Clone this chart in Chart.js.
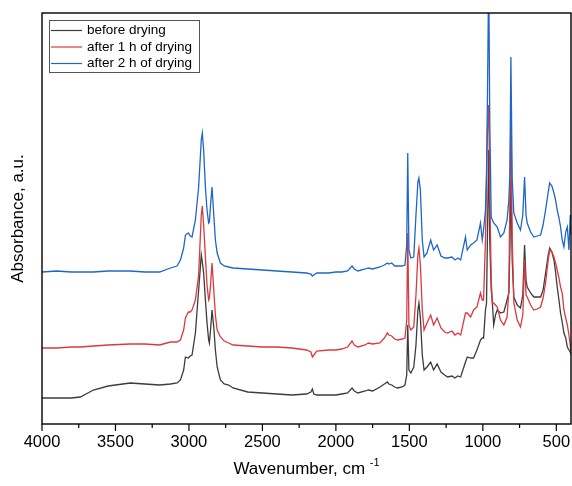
<!doctype html>
<html lang="en">
<head>
<meta charset="utf-8">
<title>FTIR spectra</title>
<style>
  * { margin: 0; padding: 0; }
  body { background: #fff; }
  .chartBox { width: 572px; height: 486px; }
</style>
</head>
<body>
<div class="chartBox"><canvas id="myChart"></canvas></div>
<script src="https://cdn.jsdelivr.net/npm/chart.js"></script>
<script>
// data (absorbance, arbitrary units, curves offset)
const wavenumbers = [4000, 3900, 3800, 3740, 3650, 3550, 3400, 3300, 3200, 3125, 3081, 3058, 3036, 3024, 3004, 2991, 2979, 2956, 2934, 2916, 2909, 2900, 2888, 2877, 2866, 2861, 2853, 2843, 2831, 2820, 2808, 2786, 2760, 2730, 2700, 2600, 2500, 2400, 2300, 2200, 2170, 2160, 2150, 2130, 2050, 2000, 1960, 1920, 1890, 1875, 1850, 1800, 1780, 1750, 1700, 1670, 1650, 1640, 1620, 1600, 1580, 1550, 1530, 1518, 1511, 1503, 1490, 1470, 1455, 1442, 1435, 1425, 1412, 1400, 1380, 1355, 1335, 1311, 1285, 1260, 1240, 1210, 1190, 1170, 1151, 1118, 1106, 1083, 1063, 1040, 1016, 1004, 995, 982, 975, 968, 960, 953, 943, 935, 926, 914, 902, 880, 857, 835, 823, 816, 809, 800, 789, 766, 744, 728, 716, 706, 698, 675, 653, 630, 607, 590, 573, 555, 545, 530, 516, 505, 494, 482, 471, 460, 448, 436, 425, 414, 405, 400];

const beforeDrying = [0.26, 0.26, 0.26, 0.27, 0.34, 0.38, 0.41, 0.40, 0.39, 0.40, 0.41, 0.44, 0.54, 0.67, 0.66, 0.68, 0.69, 0.91, 1.34, 1.69, 1.62, 1.51, 1.24, 1.01, 0.84, 0.81, 0.94, 1.14, 0.97, 0.74, 0.57, 0.44, 0.40, 0.39, 0.36, 0.32, 0.31, 0.30, 0.29, 0.30, 0.32, 0.35, 0.30, 0.29, 0.29, 0.29, 0.30, 0.31, 0.36, 0.33, 0.31, 0.33, 0.34, 0.33, 0.37, 0.40, 0.42, 0.40, 0.39, 0.37, 0.36, 0.37, 0.39, 0.49, 0.99, 0.54, 0.51, 0.57, 0.79, 1.14, 1.21, 1.06, 0.69, 0.54, 0.57, 0.62, 0.54, 0.60, 0.52, 0.49, 0.47, 0.48, 0.46, 0.48, 0.47, 0.62, 0.67, 0.66, 0.66, 0.74, 0.84, 0.86, 0.86, 1.14, 1.21, 1.94, 2.74, 1.84, 1.34, 1.21, 0.99, 1.09, 1.14, 1.11, 1.12, 1.24, 1.31, 1.74, 2.44, 1.64, 1.27, 1.19, 1.16, 1.29, 1.79, 1.44, 1.37, 1.31, 1.27, 1.27, 1.27, 1.34, 1.51, 1.69, 1.76, 1.72, 1.64, 1.52, 1.37, 1.24, 1.11, 1.02, 0.91, 0.86, 0.77, 0.74, 0.72, 0.69];

const after1h = [0.76, 0.76, 0.77, 0.77, 0.78, 0.79, 0.80, 0.80, 0.79, 0.82, 0.82, 0.84, 0.94, 1.06, 1.12, 1.12, 1.14, 1.24, 1.49, 2.09, 2.18, 1.99, 1.67, 1.39, 1.24, 1.26, 1.39, 1.61, 1.34, 1.09, 0.94, 0.87, 0.83, 0.81, 0.79, 0.78, 0.77, 0.77, 0.76, 0.74, 0.72, 0.67, 0.69, 0.73, 0.74, 0.74, 0.75, 0.77, 0.83, 0.79, 0.77, 0.79, 0.81, 0.80, 0.81, 0.86, 0.91, 0.89, 0.88, 0.85, 0.84, 0.85, 0.86, 1.04, 1.91, 0.99, 0.94, 0.97, 1.29, 1.69, 1.76, 1.59, 1.14, 0.94, 1.01, 1.09, 0.99, 1.06, 0.96, 0.92, 0.91, 0.93, 0.89, 0.91, 0.89, 1.11, 1.11, 1.07, 1.14, 1.17, 1.31, 1.24, 1.24, 1.84, 2.44, 2.94, 3.19, 2.34, 1.44, 1.21, 1.21, 1.19, 1.17, 1.04, 0.99, 1.07, 1.34, 2.24, 3.14, 1.84, 1.21, 1.04, 0.97, 1.09, 1.64, 1.29, 1.27, 1.19, 1.14, 1.15, 1.17, 1.26, 1.41, 1.64, 1.74, 1.72, 1.67, 1.61, 1.54, 1.46, 1.37, 1.31, 1.14, 1.06, 0.99, 0.89, 0.79, 0.69];

const after2h = [1.52, 1.53, 1.52, 1.52, 1.52, 1.53, 1.53, 1.52, 1.52, 1.56, 1.58, 1.64, 1.76, 1.89, 1.91, 1.88, 1.87, 2.04, 2.37, 2.84, 2.91, 2.74, 2.37, 2.14, 2.01, 2.02, 2.19, 2.37, 2.09, 1.84, 1.71, 1.61, 1.58, 1.57, 1.56, 1.55, 1.54, 1.53, 1.52, 1.51, 1.50, 1.48, 1.49, 1.51, 1.51, 1.52, 1.52, 1.53, 1.58, 1.55, 1.53, 1.55, 1.56, 1.55, 1.57, 1.59, 1.61, 1.60, 1.61, 1.58, 1.58, 1.58, 1.59, 1.79, 2.71, 1.74, 1.66, 1.67, 2.09, 2.42, 2.46, 2.34, 1.84, 1.67, 1.71, 1.84, 1.74, 1.79, 1.68, 1.66, 1.66, 1.67, 1.64, 1.66, 1.64, 1.87, 1.74, 1.79, 1.81, 1.84, 2.01, 1.84, 1.94, 2.14, 2.51, 3.34, 4.54, 3.04, 2.07, 2.04, 2.01, 1.99, 1.97, 1.87, 1.91, 2.04, 2.24, 2.51, 3.67, 2.44, 2.11, 2.01, 1.94, 2.09, 2.47, 2.09, 2.01, 1.92, 1.87, 1.88, 1.89, 1.99, 2.14, 2.32, 2.41, 2.38, 2.31, 2.24, 2.14, 2.06, 1.97, 1.84, 1.77, 1.92, 1.97, 1.74, 2.09, 1.89];

const seriesNames = ['before drying', 'after 1 h of drying', 'after 2 h of drying'];
const seriesColors = ['#3c3c3c', '#d93a40', '#1f66c8'];
const xTickLabels = [4000, 3500, 3000, 2500, 2000, 1500, 1000, 500];
const xMinorTicks = [3750, 3250, 2750, 2250, 1750, 1250, 750];

const FONT = 'Liberation Sans, Arial, sans-serif';

function toPoints(values) {
  return wavenumbers.map((w, i) => ({ x: w, y: values[i] }));
}

// frame, tick marks, legend box and x title
const decorations = {
  id: 'decorations',
  afterDraw(chart) {
    const { ctx, chartArea: a } = chart;
    const xs = chart.scales.x;
    ctx.save();
    ctx.strokeStyle = '#000';
    ctx.lineWidth = 1.4;
    ctx.strokeRect(a.left, a.top, a.right - a.left, a.bottom - a.top);

    ctx.lineWidth = 1.2;
    ctx.beginPath();
    xTickLabels.forEach(v => {
      const px = xs.getPixelForValue(v);
      ctx.moveTo(px, a.bottom);
      ctx.lineTo(px, a.bottom + 7);
    });
    xMinorTicks.forEach(v => {
      const px = xs.getPixelForValue(v);
      ctx.moveTo(px, a.bottom);
      ctx.lineTo(px, a.bottom + 4);
    });
    ctx.stroke();

    // legend
    ctx.lineWidth = 1;
    ctx.strokeStyle = '#555';
    ctx.strokeRect(49.5, 20.5, 150, 52);
    ctx.font = '13.5px ' + FONT;
    ctx.textBaseline = 'middle';
    ctx.fillStyle = '#000';
    seriesNames.forEach((name, i) => {
      const y = 30.5 + i * 16.5;
      ctx.strokeStyle = seriesColors[i];
      ctx.lineWidth = 1.2;
      ctx.beginPath();
      ctx.moveTo(51, y);
      ctx.lineTo(82, y);
      ctx.stroke();
      ctx.fillText(name, 87, y);
    });

    // x axis title with superscript
    const main = 'Wavenumber, cm ';
    const sup = '-1';
    ctx.font = '17px ' + FONT;
    const w1 = ctx.measureText(main).width;
    ctx.font = '11px ' + FONT;
    const w2 = ctx.measureText(sup).width;
    const cx = (a.left + a.right) / 2;
    const x0 = cx - (w1 + w2) / 2;
    ctx.textBaseline = 'alphabetic';
    ctx.textAlign = 'left';
    ctx.font = '17px ' + FONT;
    ctx.fillText(main, x0, 474);
    ctx.font = '11px ' + FONT;
    ctx.fillText(sup, x0 + w1, 466);
    ctx.restore();
  }
};

const data = {
  datasets: seriesNames.map((name, i) => ({
    label: name,
    data: toPoints([beforeDrying, after1h, after2h][i]),
    borderColor: seriesColors[i],
    borderWidth: 1.3,
    pointRadius: 0,
    tension: 0,
    order: 2 - i
  }))
};

const config = {
  type: 'line',
  data,
  options: {
    responsive: true,
    maintainAspectRatio: false,
    animation: false,
    layout: { padding: { top: 13, right: 1, left: 0, bottom: 0 } },
    plugins: {
      legend: { display: false },
      tooltip: { enabled: false }
    },
    scales: {
      x: {
        type: 'linear',
        reverse: true,
        min: 400,
        max: 4000,
        afterBuildTicks: s => { s.ticks = xTickLabels.map(v => ({ value: v })); },
        afterFit: s => { s.height = 62; },
        ticks: {
          autoSkip: false,
          maxRotation: 0,
          padding: 1,
          color: '#000',
          font: { family: FONT, size: 16.5 },
          callback: v => String(v)
        },
        grid: { drawOnChartArea: false, tickLength: 8, tickColor: 'rgba(0,0,0,0)' },
        border: { display: false }
      },
      y: {
        min: 0,
        max: 4.11,
        afterFit: s => { s.width = 42; },
        ticks: { display: false },
        grid: { display: false },
        border: { display: false },
        title: {
          display: true,
          text: 'Absorbance, a.u.',
          color: '#000',
          font: { family: FONT, size: 17 },
          padding: { top: 8, bottom: 0 }
        }
      }
    }
  },
  plugins: [decorations]
};

const myChart = new Chart(document.getElementById('myChart'), config);
</script>
</body>
</html>
